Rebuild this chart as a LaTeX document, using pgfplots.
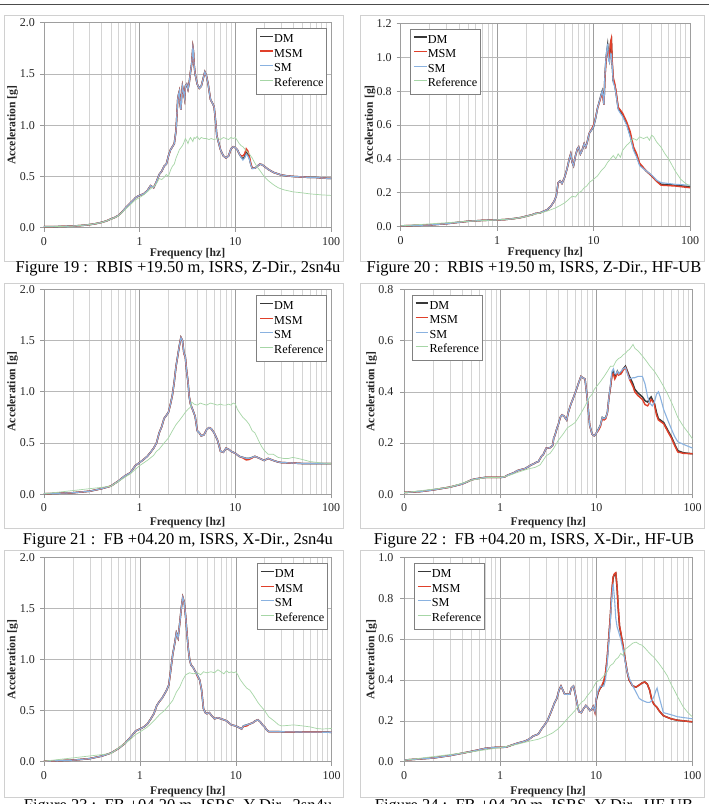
\documentclass[border=0pt]{standalone}
\usepackage{fontspec}
\setmainfont{Liberation Serif}
\usepackage{pgfplots}
\pgfplotsset{compat=1.18}
\usepackage{pgfplotstable}
\definecolor{DMc}{HTML}{383838}
\definecolor{MSMc}{HTML}{E0402A}
\definecolor{SMc}{HTML}{8AB2E0}
\definecolor{REFc}{HTML}{A6D6A6}
\definecolor{frm}{HTML}{D0D0D0}

% ---------- Panel 1 (Fig 19) ----------
\pgfplotstableread{
f dm msm sm
0.1 0.010 0.010 0.010
0.15 0.012 0.012 0.012
0.2 0.016 0.016 0.016
0.25 0.022 0.022 0.022
0.3 0.030 0.030 0.030
0.35 0.040 0.040 0.040
0.4 0.052 0.052 0.052
0.45 0.066 0.066 0.066
0.5 0.085 0.085 0.085
0.55 0.100 0.100 0.100
0.6 0.120 0.120 0.120
0.65 0.150 0.150 0.150
0.7 0.185 0.185 0.185
0.75 0.215 0.215 0.215
0.8 0.240 0.240 0.240
0.85 0.265 0.265 0.265
0.9 0.290 0.290 0.290
0.95 0.305 0.305 0.305
1.0 0.315 0.315 0.315
1.1 0.330 0.330 0.330
1.2 0.360 0.360 0.360
1.3 0.410 0.410 0.410
1.35 0.400 0.400 0.400
1.4 0.390 0.390 0.390
1.5 0.450 0.450 0.450
1.6 0.520 0.520 0.520
1.7 0.550 0.550 0.550
1.8 0.600 0.600 0.600
1.9 0.620 0.620 0.620
2.0 0.700 0.700 0.700
2.1 0.760 0.760 0.760
2.2 0.790 0.790 0.790
2.3 0.820 0.820 0.820
2.4 0.950 0.950 0.950
2.45 1.100 1.100 1.100
2.5 1.250 1.250 1.250
2.55 1.300 1.300 1.300
2.6 1.330 1.330 1.330
2.65 1.200 1.200 1.200
2.7 1.150 1.150 1.150
2.75 1.300 1.300 1.300
2.8 1.380 1.380 1.380
2.9 1.300 1.300 1.300
2.95 1.260 1.260 1.260
3.0 1.380 1.380 1.380
3.1 1.400 1.400 1.400
3.2 1.350 1.350 1.350
3.3 1.420 1.420 1.420
3.4 1.520 1.520 1.520
3.5 1.600 1.600 1.600
3.6 1.760 1.760 1.760
3.65 1.720 1.720 1.720
3.7 1.600 1.600 1.600
3.8 1.500 1.500 1.500
3.9 1.450 1.450 1.450
4.0 1.400 1.400 1.400
4.2 1.360 1.360 1.360
4.4 1.380 1.380 1.380
4.6 1.450 1.450 1.450
4.8 1.520 1.520 1.520
5.0 1.480 1.480 1.480
5.2 1.400 1.400 1.400
5.5 1.250 1.250 1.250
5.8 1.210 1.210 1.210
6.0 1.180 1.180 1.180
6.2 1.050 1.050 1.050
6.4 0.900 0.900 0.900
6.6 0.850 0.850 0.850
7.0 0.760 0.760 0.760
7.5 0.700 0.700 0.700
8.0 0.680 0.680 0.680
8.5 0.700 0.700 0.700
9.0 0.770 0.770 0.770
9.5 0.790 0.790 0.790
10 0.780 0.780 0.780
10.5 0.760 0.760 0.760
11 0.720 0.720 0.720
11.5 0.690 0.700 0.685
12 0.670 0.700 0.660
12.5 0.690 0.720 0.680
13 0.740 0.770 0.720
13.5 0.720 0.750 0.700
14 0.680 0.700 0.670
14.5 0.620 0.630 0.615
15 0.580 0.580 0.575
16 0.580 0.580 0.580
17 0.600 0.600 0.600
18 0.620 0.620 0.620
19 0.615 0.615 0.615
20 0.600 0.600 0.600
22 0.570 0.570 0.570
25 0.540 0.540 0.540
30 0.515 0.515 0.515
35 0.505 0.505 0.505
40 0.500 0.500 0.500
50 0.495 0.495 0.495
60 0.490 0.490 0.490
70 0.490 0.490 0.490
80 0.485 0.485 0.485
100 0.480 0.480 0.480
}\tA
\pgfplotstableread{
f r
0.1 0.008
0.2 0.015
0.3 0.030
0.4 0.050
0.5 0.082
0.6 0.115
0.7 0.175
0.8 0.225
0.9 0.270
1.0 0.295
1.1 0.320
1.2 0.350
1.3 0.380
1.4 0.400
1.5 0.430
1.6 0.480
1.7 0.470
1.8 0.490
1.9 0.520
2.0 0.500
2.1 0.560
2.2 0.600
2.3 0.620
2.4 0.680
2.5 0.720
2.6 0.760
2.7 0.780
2.8 0.800
2.9 0.830
3.0 0.870
3.1 0.850
3.2 0.820
3.3 0.860
3.4 0.880
3.5 0.860
3.6 0.840
3.7 0.880
3.8 0.870
4.0 0.890
4.2 0.860
4.4 0.880
4.7 0.870
5.0 0.870
5.3 0.860
5.6 0.870
6.0 0.860
6.5 0.870
7.0 0.860
7.5 0.880
8.0 0.870
8.5 0.860
9.0 0.880
9.5 0.870
10 0.880
10.5 0.850
11 0.820
11.5 0.800
12 0.790
13 0.750
14 0.720
15 0.680
16 0.630
17 0.590
18 0.560
20 0.500
22 0.460
25 0.420
28 0.390
32 0.370
40 0.350
50 0.340
60 0.330
80 0.320
100 0.315
}\rA

% ---------- Panel 2 (Fig 20) ----------
\pgfplotstableread{
f dm msm sm
0.1 0.005 0.005 0.005
0.2 0.010 0.010 0.010
0.3 0.018 0.018 0.018
0.4 0.026 0.026 0.026
0.5 0.032 0.032 0.032
0.7 0.037 0.037 0.037
1.0 0.040 0.040 0.040
1.2 0.042 0.042 0.042
1.5 0.048 0.048 0.048
1.8 0.055 0.055 0.055
2.0 0.062 0.062 0.062
2.3 0.070 0.070 0.070
2.5 0.078 0.078 0.078
2.8 0.082 0.082 0.082
3.0 0.090 0.090 0.090
3.3 0.100 0.100 0.100
3.6 0.120 0.120 0.120
3.9 0.150 0.150 0.150
4.1 0.180 0.180 0.180
4.3 0.260 0.260 0.260
4.5 0.270 0.270 0.270
4.7 0.255 0.255 0.255
5.0 0.290 0.290 0.290
5.3 0.340 0.340 0.340
5.6 0.400 0.400 0.400
5.8 0.430 0.430 0.430
6.0 0.380 0.380 0.380
6.2 0.360 0.360 0.360
6.5 0.420 0.420 0.420
6.8 0.460 0.460 0.460
7.0 0.470 0.470 0.470
7.3 0.430 0.430 0.430
7.6 0.450 0.450 0.450
8.0 0.490 0.490 0.490
8.3 0.470 0.470 0.470
8.6 0.500 0.500 0.500
9.0 0.550 0.550 0.550
9.5 0.570 0.575 0.570
10 0.590 0.600 0.590
10.5 0.640 0.645 0.640
11 0.700 0.700 0.700
11.5 0.740 0.735 0.740
12 0.780 0.770 0.780
12.3 0.800 0.785 0.800
12.6 0.760 0.750 0.760
12.8 0.720 0.720 0.720
13.1 0.880 0.870 0.890
13.5 1.000 0.990 1.010
14.0 1.070 1.040 1.080
14.3 1.000 1.010 0.980
14.6 0.980 1.000 0.970
15.0 1.080 1.090 1.020
15.3 1.100 1.110 1.020
15.6 0.960 0.980 0.950
16.0 0.860 0.880 0.850
16.5 0.840 0.850 0.830
17 0.800 0.810 0.790
18 0.700 0.705 0.690
20 0.660 0.670 0.650
22 0.610 0.620 0.600
24 0.540 0.560 0.530
26 0.460 0.470 0.450
28 0.420 0.430 0.410
30 0.370 0.375 0.360
35 0.330 0.330 0.330
40 0.300 0.300 0.305
45 0.270 0.268 0.275
50 0.250 0.245 0.260
70 0.245 0.240 0.250
100 0.235 0.230 0.245
}\tB
\pgfplotstableread{
f r
0.1 0.005
0.5 0.032
1.0 0.040
1.5 0.047
2.0 0.060
2.5 0.075
3.0 0.085
3.3 0.092
3.6 0.100
4.0 0.110
4.5 0.125
5.0 0.140
5.5 0.160
6.0 0.180
6.5 0.175
7.0 0.200
7.5 0.210
8.0 0.230
8.5 0.240
9.0 0.260
9.5 0.270
10 0.280
11 0.300
12 0.330
13 0.350
14 0.380
15 0.400
16 0.420
17 0.400
18 0.430
19 0.410
20 0.450
22 0.480
24 0.500
26 0.520
28 0.510
30 0.530
33 0.520
36 0.530
38 0.510
40 0.540
42 0.530
45 0.500
50 0.470
55 0.430
60 0.400
70 0.330
80 0.280
90 0.255
100 0.240
}\rB

% ---------- Panel 3 (Fig 21) ----------
\pgfplotstableread{
f dm msm sm
0.1 0.005 0.005 0.005
0.2 0.015 0.015 0.015
0.3 0.030 0.030 0.030
0.4 0.055 0.055 0.055
0.5 0.080 0.080 0.080
0.6 0.130 0.130 0.130
0.7 0.180 0.180 0.180
0.8 0.210 0.210 0.210
0.9 0.280 0.280 0.280
1.0 0.310 0.310 0.310
1.1 0.340 0.340 0.340
1.2 0.370 0.370 0.370
1.3 0.410 0.410 0.410
1.4 0.450 0.450 0.450
1.5 0.500 0.500 0.500
1.6 0.600 0.600 0.600
1.7 0.660 0.660 0.660
1.8 0.740 0.740 0.740
1.9 0.770 0.770 0.770
2.0 0.800 0.800 0.800
2.1 0.880 0.880 0.880
2.2 0.970 0.970 0.970
2.3 1.100 1.100 1.100
2.4 1.250 1.250 1.250
2.5 1.350 1.350 1.350
2.6 1.450 1.450 1.450
2.7 1.530 1.530 1.530
2.8 1.500 1.500 1.500
2.9 1.380 1.370 1.380
3.0 1.340 1.340 1.340
3.1 1.200 1.200 1.200
3.2 1.100 1.100 1.100
3.3 0.950 0.950 0.950
3.4 0.880 0.880 0.880
3.6 0.820 0.820 0.820
3.8 0.760 0.760 0.760
4.0 0.620 0.620 0.620
4.2 0.600 0.600 0.600
4.4 0.570 0.570 0.570
4.7 0.580 0.580 0.580
5.0 0.630 0.630 0.630
5.3 0.650 0.650 0.650
5.6 0.640 0.640 0.640
6.0 0.600 0.600 0.600
6.5 0.530 0.530 0.530
7.0 0.420 0.420 0.420
7.5 0.410 0.410 0.410
8.0 0.450 0.450 0.450
8.5 0.440 0.440 0.440
9.0 0.420 0.420 0.420
10 0.400 0.400 0.400
11 0.370 0.370 0.370
12 0.360 0.355 0.360
13 0.350 0.335 0.350
14 0.350 0.340 0.350
15 0.360 0.355 0.360
16 0.370 0.370 0.370
17 0.360 0.360 0.360
18 0.350 0.350 0.350
20 0.330 0.330 0.330
22 0.350 0.350 0.350
25 0.330 0.330 0.330
28 0.315 0.315 0.315
30 0.310 0.310 0.310
40 0.305 0.305 0.305
50 0.300 0.300 0.300
100 0.300 0.300 0.300
}\tC
\pgfplotstableread{
f r
0.1 0.005
0.5 0.078
0.8 0.200
1.0 0.280
1.2 0.330
1.4 0.380
1.5 0.420
1.6 0.440
1.8 0.500
2.0 0.550
2.2 0.620
2.4 0.680
2.6 0.720
2.8 0.760
3.0 0.800
3.2 0.830
3.4 0.850
3.5 0.900
3.7 0.880
4.0 0.870
4.3 0.890
4.6 0.880
5.0 0.870
5.5 0.890
6.0 0.880
6.5 0.870
7.0 0.880
7.5 0.870
8.0 0.870
8.5 0.880
9.0 0.870
9.5 0.890
10 0.880
10.5 0.830
11 0.800
12 0.750
13 0.720
14 0.680
15 0.620
16 0.600
17 0.550
18 0.500
19 0.460
20 0.430
22 0.390
25 0.390
28 0.360
32 0.350
36 0.350
40 0.360
45 0.350
50 0.340
60 0.320
80 0.305
100 0.300
}\rC

% ---------- Panel 4 (Fig 22) ----------
\pgfplotstableread{
f dm msm sm
0.1 0.007 0.007 0.007
0.15 0.011 0.011 0.011
0.2 0.017 0.017 0.017
0.3 0.028 0.028 0.028
0.4 0.040 0.040 0.040
0.45 0.048 0.048 0.048
0.5 0.056 0.056 0.056
0.55 0.060 0.060 0.060
0.6 0.062 0.062 0.062
0.7 0.066 0.066 0.066
0.8 0.066 0.066 0.066
1.0 0.066 0.066 0.066
1.1 0.067 0.067 0.067
1.2 0.075 0.075 0.075
1.3 0.080 0.080 0.080
1.4 0.085 0.085 0.085
1.5 0.092 0.092 0.092
1.6 0.095 0.095 0.095
1.7 0.098 0.098 0.098
1.8 0.100 0.100 0.100
1.9 0.105 0.105 0.105
2.0 0.110 0.110 0.110
2.1 0.115 0.115 0.115
2.2 0.118 0.118 0.118
2.3 0.122 0.122 0.122
2.4 0.126 0.126 0.126
2.5 0.128 0.128 0.128
2.6 0.140 0.140 0.140
2.7 0.150 0.150 0.150
2.8 0.155 0.155 0.155
3.0 0.180 0.180 0.180
3.3 0.182 0.182 0.182
3.5 0.190 0.190 0.190
3.6 0.220 0.220 0.220
3.7 0.230 0.230 0.230
3.9 0.260 0.260 0.260
4.0 0.270 0.270 0.270
4.2 0.300 0.300 0.300
4.4 0.310 0.310 0.310
4.6 0.305 0.305 0.305
4.9 0.290 0.290 0.290
5.1 0.320 0.320 0.320
5.4 0.350 0.350 0.350
5.8 0.380 0.380 0.380
6.2 0.410 0.410 0.410
6.6 0.440 0.440 0.440
6.9 0.460 0.460 0.460
7.2 0.455 0.455 0.455
7.6 0.450 0.450 0.450
8.0 0.380 0.380 0.380
8.5 0.270 0.270 0.270
9.0 0.235 0.235 0.235
9.5 0.228 0.228 0.228
10 0.240 0.240 0.240
10.5 0.255 0.250 0.255
11 0.270 0.265 0.270
11.5 0.300 0.295 0.300
12 0.295 0.290 0.295
12.5 0.300 0.295 0.300
13 0.320 0.320 0.320
13.5 0.380 0.380 0.380
14 0.420 0.420 0.430
14.5 0.470 0.465 0.480
15 0.480 0.470 0.490
15.5 0.460 0.450 0.470
16 0.465 0.460 0.470
16.5 0.480 0.475 0.480
17 0.470 0.465 0.470
18 0.475 0.470 0.480
19 0.490 0.485 0.490
20 0.500 0.495 0.495
21 0.480 0.475 0.470
22 0.460 0.450 0.450
24 0.430 0.420 0.455
25 0.410 0.400 0.455
27 0.395 0.385 0.460
28 0.390 0.380 0.460
30 0.380 0.370 0.460
32 0.365 0.350 0.430
34 0.360 0.345 0.380
36 0.375 0.360 0.355
37 0.380 0.370 0.350
38 0.370 0.365 0.345
40 0.355 0.350 0.360
42 0.320 0.310 0.390
44 0.295 0.290 0.400
46 0.290 0.285 0.380
50 0.280 0.275 0.330
55 0.250 0.245 0.290
60 0.225 0.220 0.255
65 0.195 0.190 0.225
70 0.170 0.165 0.205
80 0.162 0.160 0.195
100 0.158 0.158 0.180
}\tD
\pgfplotstableread{
f r
0.1 0.006
0.3 0.028
0.5 0.055
0.7 0.065
1.0 0.066
1.2 0.072
1.5 0.085
1.8 0.095
2.0 0.100
2.3 0.105
2.6 0.115
3.0 0.150
3.3 0.160
3.6 0.180
4.0 0.210
4.5 0.235
5.0 0.260
5.5 0.270
6.0 0.280
6.5 0.300
7.0 0.320
7.5 0.340
8.0 0.360
8.5 0.380
9.0 0.390
9.5 0.410
10 0.420
11 0.440
12 0.460
13 0.480
14 0.500
15 0.500
16 0.520
17 0.530
18 0.535
19 0.545
20 0.550
21 0.560
22 0.565
23 0.575
24 0.585
25 0.570
27 0.560
30 0.540
33 0.520
36 0.500
40 0.480
45 0.450
50 0.420
55 0.390
60 0.360
65 0.330
70 0.300
80 0.265
90 0.240
100 0.215
}\rD

% ---------- Panel 5 (Fig 23) ----------
\pgfplotstableread{
f dm msm sm
0.1 0.005 0.005 0.005
0.2 0.015 0.015 0.015
0.3 0.030 0.030 0.030
0.4 0.055 0.055 0.055
0.5 0.085 0.085 0.085
0.6 0.130 0.130 0.130
0.7 0.180 0.180 0.180
0.8 0.240 0.240 0.240
0.85 0.270 0.270 0.270
0.9 0.300 0.300 0.300
1.0 0.320 0.320 0.320
1.1 0.340 0.340 0.340
1.2 0.370 0.370 0.370
1.3 0.420 0.420 0.420
1.4 0.470 0.470 0.470
1.5 0.550 0.550 0.550
1.6 0.590 0.590 0.590
1.7 0.620 0.620 0.620
1.8 0.660 0.660 0.660
1.9 0.700 0.700 0.700
2.0 0.750 0.750 0.750
2.1 0.900 0.900 0.900
2.2 1.050 1.050 1.050
2.3 1.150 1.150 1.150
2.4 1.260 1.260 1.260
2.5 1.210 1.210 1.210
2.6 1.350 1.350 1.350
2.7 1.500 1.500 1.500
2.8 1.610 1.610 1.610
2.9 1.560 1.560 1.560
3.0 1.420 1.420 1.420
3.1 1.250 1.250 1.250
3.2 1.100 1.100 1.100
3.3 1.000 1.000 1.000
3.4 0.950 0.950 0.950
3.6 0.920 0.920 0.920
3.8 0.880 0.880 0.880
4.0 0.840 0.830 0.840
4.2 0.800 0.800 0.800
4.4 0.700 0.700 0.700
4.6 0.520 0.520 0.520
4.8 0.480 0.480 0.480
5.0 0.470 0.470 0.470
5.3 0.480 0.480 0.480
5.6 0.450 0.450 0.450
6.0 0.420 0.420 0.420
6.5 0.430 0.430 0.430
7.0 0.420 0.420 0.420
7.5 0.410 0.410 0.410
8.0 0.400 0.400 0.400
9.0 0.360 0.360 0.360
10 0.350 0.350 0.350
11 0.330 0.330 0.330
11.5 0.320 0.320 0.320
12 0.350 0.345 0.350
13 0.360 0.350 0.360
14 0.370 0.370 0.370
15 0.380 0.380 0.380
16 0.400 0.400 0.400
17 0.410 0.410 0.410
18 0.390 0.390 0.390
19 0.360 0.360 0.360
20 0.340 0.340 0.340
21 0.310 0.310 0.310
22 0.295 0.295 0.295
25 0.295 0.295 0.295
30 0.293 0.293 0.293
50 0.290 0.290 0.290
100 0.288 0.288 0.288
}\tE
\pgfplotstableread{
f r
0.1 0.005
0.5 0.080
0.8 0.220
0.9 0.265
1.0 0.290
1.2 0.340
1.4 0.400
1.6 0.460
1.8 0.500
2.0 0.550
2.2 0.600
2.4 0.680
2.6 0.730
2.8 0.800
3.0 0.850
3.3 0.870
3.6 0.860
4.0 0.870
4.3 0.850
4.6 0.880
5.0 0.870
5.5 0.880
6.0 0.870
6.5 0.900
7.0 0.880
7.5 0.860
8.0 0.890
8.5 0.870
9.0 0.880
9.5 0.870
10 0.880
10.5 0.850
11 0.810
12 0.760
13 0.720
14 0.700
15 0.660
16 0.620
17 0.580
18 0.550
20 0.500
22 0.440
25 0.400
28 0.360
30 0.350
35 0.355
40 0.360
50 0.350
60 0.340
70 0.325
80 0.320
100 0.325
}\rE

% ---------- Panel 6 (Fig 24) ----------
\pgfplotstableread{
f dm msm sm
0.1 0.008 0.008 0.008
0.2 0.018 0.018 0.018
0.3 0.030 0.030 0.030
0.5 0.050 0.050 0.050
0.6 0.058 0.058 0.058
0.7 0.065 0.065 0.065
0.8 0.068 0.068 0.068
0.9 0.070 0.070 0.070
1.0 0.070 0.070 0.070
1.15 0.071 0.071 0.071
1.3 0.080 0.080 0.080
1.5 0.090 0.090 0.090
1.8 0.100 0.100 0.100
2.0 0.110 0.110 0.110
2.2 0.125 0.125 0.125
2.5 0.135 0.135 0.135
2.7 0.160 0.160 0.160
2.9 0.180 0.180 0.180
3.1 0.200 0.200 0.200
3.3 0.230 0.230 0.230
3.5 0.260 0.260 0.260
3.7 0.290 0.290 0.290
3.9 0.310 0.310 0.310
4.1 0.350 0.350 0.350
4.3 0.370 0.370 0.370
4.5 0.350 0.350 0.350
4.7 0.330 0.330 0.330
5.0 0.330 0.330 0.330
5.3 0.330 0.330 0.330
5.5 0.360 0.360 0.360
5.8 0.370 0.370 0.370
6.0 0.340 0.340 0.340
6.3 0.290 0.290 0.290
6.6 0.245 0.245 0.245
7.0 0.240 0.240 0.240
7.4 0.260 0.260 0.260
7.8 0.275 0.275 0.275
8.2 0.265 0.265 0.265
8.6 0.250 0.250 0.250
9.0 0.255 0.255 0.255
9.3 0.270 0.270 0.270
9.7 0.245 0.240 0.245
10.0 0.300 0.310 0.310
10.5 0.340 0.340 0.350
11 0.360 0.360 0.370
11.5 0.370 0.375 0.370
12 0.390 0.395 0.370
12.5 0.430 0.435 0.400
13 0.500 0.505 0.480
13.5 0.600 0.605 0.580
14 0.700 0.705 0.680
14.5 0.820 0.830 0.800
15 0.900 0.905 0.870
15.5 0.915 0.920 0.800
16 0.920 0.925 0.700
16.5 0.850 0.855 0.660
17 0.740 0.745 0.640
17.5 0.660 0.665 0.620
18 0.630 0.635 0.600
19 0.570 0.570 0.550
20 0.500 0.500 0.490
21 0.440 0.440 0.440
22 0.400 0.400 0.410
24 0.370 0.370 0.370
26 0.365 0.365 0.340
28 0.375 0.375 0.310
30 0.385 0.385 0.300
32 0.390 0.390 0.295
34 0.380 0.380 0.290
36 0.350 0.350 0.290
38 0.300 0.300 0.300
40 0.280 0.280 0.320
42 0.270 0.270 0.350
43 0.265 0.265 0.360
45 0.250 0.250 0.320
50 0.225 0.225 0.240
60 0.210 0.210 0.230
70 0.203 0.203 0.220
100 0.195 0.195 0.210
}\tF
\pgfplotstableread{
f r
0.1 0.007
0.5 0.048
1.0 0.069
1.5 0.085
2.0 0.100
2.5 0.110
3.0 0.125
3.5 0.140
4.0 0.160
4.5 0.185
5.0 0.210
5.5 0.230
6.0 0.250
6.5 0.270
7.0 0.290
7.5 0.300
8.0 0.320
8.5 0.335
9.0 0.350
9.5 0.370
10 0.390
11 0.400
12 0.420
13 0.440
14 0.470
15 0.480
16 0.500
17 0.510
18 0.530
19 0.520
20 0.550
22 0.565
24 0.580
26 0.585
28 0.575
30 0.570
33 0.550
36 0.530
40 0.510
45 0.480
50 0.450
55 0.420
60 0.380
65 0.350
70 0.320
80 0.270
90 0.240
100 0.220
}\rF

\newcommand{\PanelBegin}[1]{\begin{semilogxaxis}[
    scale only axis, xmin=0.1, xmax=100, ymin=0,
    xtick={0.1,1,10,100}, xticklabels={0,1,10,100},
    minor xtick={0.2,0.3,0.4,0.5,0.6,0.7,0.8,0.9,2,3,4,5,6,7,8,9,20,30,40,50,60,70,80,90},
    xmajorgrids=true, xminorgrids=true, ymajorgrids=true,
    major x grid style={draw=black!38, line width=0.5pt},
    minor x grid style={draw=black!17, line width=0.5pt},
    major y grid style={draw=black!28, line width=0.6pt},
    axis line style={draw=black!38, line width=0.6pt},
    tick align=outside, xtick pos=bottom, ytick pos=left,
    major tick length=4pt, minor tick length=0pt,
    major tick style={draw=black!40, line width=0.6pt},
    tick label style={font=\fontsize{12}{14}\selectfont, text=black!85},
    yticklabel style={/pgf/number format/.cd, fixed, fixed zerofill, precision=1, assume math mode=true, /tikz/.cd, anchor=east, inner sep=0pt},
    xticklabel style={anchor=center, inner sep=0pt, yshift=-9.5pt},
    label style={font=\bfseries\fontsize{11.7}{13}\selectfont, text=black!85},
    xlabel={Frequency [hz]}, ylabel={Acceleration [g]},
    legend cell align=left,
    legend image code/.code={\draw[##1] (0pt,3pt) -- (12.7pt,3pt);},
    legend style={draw=black!50, line width=0.6pt, fill=white,
      font=\fontsize{12.2}{14}\selectfont, inner xsep=2.8pt, inner ysep=5.5pt,
      row sep=3.5pt, column sep=0.5pt,
      nodes={inner sep=0pt, text height=8.5pt, text depth=2.5pt}},
    #1]}

\begin{document}
\begin{tikzpicture}
\path[use as bounding box, clip] (0pt,0pt) rectangle (709pt,804pt);
\fill[white] (0pt,0pt) rectangle (709pt,804pt);
\draw[line width=1.6pt, black!70] (0pt,799.3pt) -- (709pt,799.3pt);
% frames
\draw[frm, line width=0.7pt] (4pt,789pt) rectangle (343.3pt,542.5pt);
\draw[frm, line width=0.7pt] (360pt,789pt) rectangle (704pt,542.5pt);
\draw[frm, line width=0.7pt] (4pt,521pt) rectangle (343.3pt,276pt);
\draw[frm, line width=0.7pt] (360pt,521pt) rectangle (704pt,276pt);
\draw[frm, line width=0.7pt] (4pt,253.3pt) rectangle (343.3pt,7pt);
\draw[frm, line width=0.7pt] (360pt,253.3pt) rectangle (704pt,7pt);
% captions
\begin{scope}[every node/.style={font=\fontsize{16.5}{18}\selectfont, anchor=base, inner sep=0pt}]
\node at (178pt,531pt) {Figure 19 :\ \ RBIS +19.50 m, ISRS, Z-Dir., 2sn4u};
\node at (534pt,531pt) {Figure 20 :\ \ RBIS +19.50 m, ISRS, Z-Dir., HF-UB};
\node at (178pt,259.7pt) {Figure 21 :\ \ FB +04.20 m, ISRS, X-Dir., 2sn4u};
\node at (534pt,259.7pt) {Figure 22 :\ \ FB +04.20 m, ISRS, X-Dir., HF-UB};
\node at (178pt,-6.3pt) {Figure 23 :\ \ FB +04.20 m, ISRS, Y-Dir., 2sn4u};
\node at (534pt,-6.3pt) {Figure 24 :\ \ FB +04.20 m, ISRS, Y-Dir., HF-UB};
\end{scope}

% Panel 1
\PanelBegin{at={(44pt,576.3pt)}, anchor=south west, width=287pt, height=205pt,
  ymax=2, ytick={0,0.5,1,1.5,2},
  yticklabel style={xshift=-5pt},
  xlabel style={at={(axis description cs:0.5,-0.128)}, anchor=center},
  ylabel style={at={(axis description cs:-0.109,0.5)}, anchor=center},
  legend style={at={(0.985,0.973)}, anchor=north east}}
\addplot[draw=DMc, line width=1.5pt] table[x=f,y=dm]{\tA};
\addplot[draw=MSMc, line width=1.4pt] table[x=f,y=msm]{\tA};
\addplot[draw=SMc, line width=1.1pt] table[x=f,y=sm]{\tA};
\addplot[draw=REFc, line width=0.7pt] table[x=f,y=r]{\rA};
\legend{DM,MSM,SM,Reference}
\end{semilogxaxis}

% Panel 2
\PanelBegin{at={(400.7pt,577.3pt)}, anchor=south west, width=289.3pt, height=203.4pt,
  ymax=1.2, ytick={0,0.2,0.4,0.6,0.8,1.0,1.2},
  yticklabel style={xshift=-5pt},
  xlabel style={at={(axis description cs:0.5,-0.13)}, anchor=center},
  ylabel style={at={(axis description cs:-0.106,0.5)}, anchor=center},
  legend style={at={(0.032,0.973)}, anchor=north west}}
\addplot[draw=DMc, line width=1.5pt] table[x=f,y=dm]{\tB};
\addplot[draw=MSMc, line width=1.4pt] table[x=f,y=msm]{\tB};
\addplot[draw=SMc, line width=1.1pt] table[x=f,y=sm]{\tB};
\addplot[draw=REFc, line width=0.7pt] table[x=f,y=r]{\rB};
\legend{DM,MSM,SM,Reference}
\end{semilogxaxis}

% Panel 3
\PanelBegin{at={(44pt,309.7pt)}, anchor=south west, width=287pt, height=205pt,
  ymax=2, ytick={0,0.5,1,1.5,2},
  yticklabel style={xshift=-5pt},
  xlabel style={at={(axis description cs:0.5,-0.14)}, anchor=center},
  ylabel style={at={(axis description cs:-0.109,0.5)}, anchor=center},
  legend style={at={(0.985,0.97)}, anchor=north east}}
\addplot[draw=DMc, line width=1.5pt] table[x=f,y=dm]{\tC};
\addplot[draw=MSMc, line width=1.4pt] table[x=f,y=msm]{\tC};
\addplot[draw=SMc, line width=1.1pt] table[x=f,y=sm]{\tC};
\addplot[draw=REFc, line width=0.7pt] table[x=f,y=r]{\rC};
\legend{DM,MSM,SM,Reference}
\end{semilogxaxis}

% Panel 4
\PanelBegin{at={(404pt,309.7pt)}, anchor=south west, width=288.7pt, height=205pt,
  ymax=0.8, ytick={0,0.2,0.4,0.6,0.8},
  yticklabel style={xshift=-6.5pt},
  xlabel style={at={(axis description cs:0.5,-0.14)}, anchor=center},
  ylabel style={at={(axis description cs:-0.112,0.5)}, anchor=center},
  legend style={at={(0.027,0.973)}, anchor=north west}}
\addplot[draw=DMc, line width=1.5pt] table[x=f,y=dm]{\tD};
\addplot[draw=MSMc, line width=1.4pt] table[x=f,y=msm]{\tD};
\addplot[draw=SMc, line width=1.1pt] table[x=f,y=sm]{\tD};
\addplot[draw=REFc, line width=0.7pt] table[x=f,y=r]{\rD};
\legend{DM,MSM,SM,Reference}
\end{semilogxaxis}

% Panel 5
\PanelBegin{at={(44pt,42.3pt)}, anchor=south west, width=287.7pt, height=204.4pt,
  ymax=2, ytick={0,0.5,1,1.5,2},
  yticklabel style={xshift=-5pt},
  xlabel style={at={(axis description cs:0.5,-0.147)}, anchor=center},
  ylabel style={at={(axis description cs:-0.109,0.5)}, anchor=center},
  legend style={at={(0.985,0.97)}, anchor=north east}}
\addplot[draw=DMc, line width=1.5pt] table[x=f,y=dm]{\tE};
\addplot[draw=MSMc, line width=1.4pt] table[x=f,y=msm]{\tE};
\addplot[draw=SMc, line width=1.1pt] table[x=f,y=sm]{\tE};
\addplot[draw=REFc, line width=0.7pt] table[x=f,y=r]{\rE};
\legend{DM,MSM,SM,Reference}
\end{semilogxaxis}

% Panel 6
\PanelBegin{at={(404pt,42.3pt)}, anchor=south west, width=288.3pt, height=204.4pt,
  ymax=1.0, ytick={0,0.2,0.4,0.6,0.8,1.0},
  yticklabel style={xshift=-6.5pt},
  xlabel style={at={(axis description cs:0.5,-0.147)}, anchor=center},
  ylabel style={at={(axis description cs:-0.112,0.5)}, anchor=center},
  legend style={at={(0.035,0.97)}, anchor=north west}}
\addplot[draw=DMc, line width=1.5pt] table[x=f,y=dm]{\tF};
\addplot[draw=MSMc, line width=1.4pt] table[x=f,y=msm]{\tF};
\addplot[draw=SMc, line width=1.1pt] table[x=f,y=sm]{\tF};
\addplot[draw=REFc, line width=0.7pt] table[x=f,y=r]{\rF};
\legend{DM,MSM,SM,Reference}
\end{semilogxaxis}
\end{tikzpicture}
\end{document}
